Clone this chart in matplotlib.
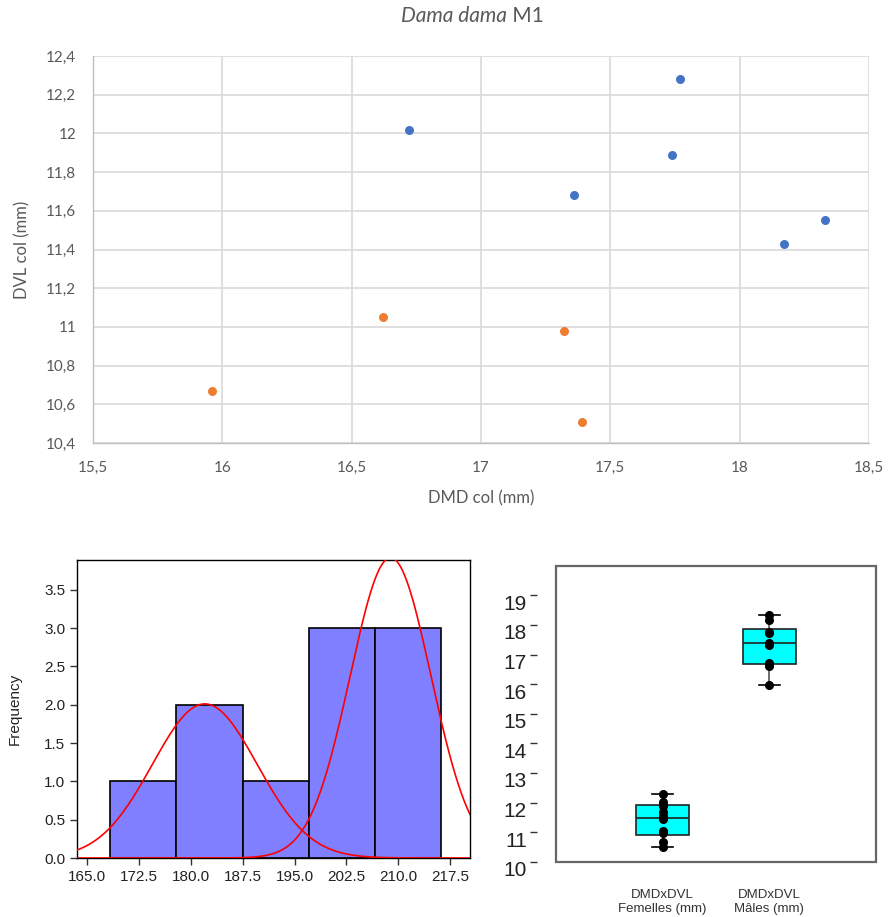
import numpy as np
import matplotlib
matplotlib.use("Agg")
import matplotlib.pyplot as plt
from matplotlib.patches import Rectangle
import matplotlib.transforms as mtransforms

# ---------------- data ----------------
# scatter: Dama dama M1
male_dmd = [16.72, 17.77, 17.74, 17.36, 18.17, 18.33]
male_dvl = [12.02, 12.28, 11.89, 11.68, 11.43, 11.55]
female_dmd = [16.62, 17.32, 15.96, 17.39]
female_dvl = [11.05, 10.98, 10.67, 10.51]

# histogram (DMD x DVL)
hist_edges = [168.3, 177.9, 187.6, 197.1, 206.65, 216.2]
hist_counts = [1, 2, 1, 3, 3]
fit_means = [182.0, 208.9]
fit_sds = [7.6, 5.85]
fit_counts = [4, 6]
hist_xticks = [165.0, 172.5, 180.0, 187.5, 195.0, 202.5, 210.0, 217.5]

# box plot values
box_labels = ["DMDxDVL\nFemelles (mm)", "DMDxDVL\nMâles (mm)"]
box_female = [12.28, 12.02, 11.89, 11.68, 11.55, 11.43, 11.05, 10.98, 10.67, 10.51]
box_male = [18.33, 18.17, 17.77, 17.74, 17.39, 17.36, 17.32, 16.72, 16.62, 15.96]

fig = plt.figure(figsize=(8.89, 9.17), dpi=100)

# ---------------- scatter ----------------
sfont = "Lato"
gray_txt = "#595959"
ax1 = fig.add_axes([0.1046, 0.5169, 0.8729, 0.422])
ax1.scatter(male_dmd, male_dvl, s=42, color="#4472C4", zorder=3, linewidths=0)
ax1.scatter(female_dmd, female_dvl, s=42, color="#ED7D31", zorder=3, linewidths=0)
ax1.set_xlim(15.5, 18.5)
ax1.set_ylim(10.4, 12.4)
xt = np.arange(15.5, 18.51, 0.5)
yt = np.arange(10.4, 12.41, 0.2)
ax1.set_xticks(xt)
ax1.set_yticks(yt)
fmt = lambda v: ("%g" % round(v, 2)).replace(".", ",")
ax1.set_xticklabels([fmt(v) for v in xt], fontsize=11, color=gray_txt, family=sfont)
ax1.set_yticklabels([fmt(v) for v in yt], fontsize=11, color=gray_txt, family=sfont)
ax1.tick_params(length=0, pad=13)
ax1.tick_params(axis="y", pad=12)
ax1.grid(True, color="#d9d9d9", linewidth=1.2)
ax1.set_axisbelow(True)
for s in ["top", "right"]:
    ax1.spines[s].set_visible(False)
for s in ["left", "bottom"]:
    ax1.spines[s].set_color("#bfbfbf")
    ax1.spines[s].set_linewidth(1.0)
ax1.set_xlabel("DMD col (mm)", fontsize=12, color=gray_txt, family=sfont, labelpad=11)
ax1.set_ylabel("DVL col (mm)", fontsize=12, color=gray_txt, family=sfont, labelpad=11)

t1 = fig.text(507 / 889, 1 - 16 / 917, "Dama dama", fontsize=15, style="italic",
              color=gray_txt, family=sfont, ha="right", va="center")
fig.canvas.draw()
ax1.annotate(" M1", xy=(1, 0), xycoords=t1, va="bottom", ha="left",
             fontsize=15, color=gray_txt, family=sfont)

# ---------------- histogram ----------------
hfont = "Liberation Sans"
ax2 = fig.add_axes([77 / 889, (917 - 858) / 917, 393 / 889, 298 / 917])
widths = np.diff(hist_edges)
ax2.bar(hist_edges[:-1], hist_counts, width=widths, align="edge",
        color="#7f7fff", edgecolor="black", linewidth=1.2, zorder=2)
xs = np.linspace(163.5, 220.4, 400)
bw = np.mean(widths)
for m, sd, n in zip(fit_means, fit_sds, fit_counts):
    ys = n * bw / (sd * np.sqrt(2 * np.pi)) * np.exp(-0.5 * ((xs - m) / sd) ** 2)
    ax2.plot(xs, ys, color="red", linewidth=1.2, zorder=3)
ax2.set_xlim(163.5, 220.4)
ax2.set_ylim(0, 3.89)
ax2.set_xticks(hist_xticks)
ax2.set_xticklabels(["%.1f" % v for v in hist_xticks], fontsize=11, family=hfont, color="#222222")
ax2.set_yticks(np.arange(0, 3.6, 0.5))
ax2.set_yticklabels(["%.1f" % v for v in np.arange(0, 3.6, 0.5)], fontsize=11,
                    family=hfont, color="#222222")
ax2.tick_params(direction="out", length=5, width=1, color="#333333")
for s in ax2.spines.values():
    s.set_linewidth(1.0)
    s.set_color("black")
ax2.set_ylabel("Frequency", fontsize=11, family=hfont, color="#222222", labelpad=16)

# ---------------- box plot ----------------
ax3 = fig.add_axes([556 / 889, (917 - 861.7) / 917, 320 / 889, 296 / 917])
for s in ax3.spines.values():
    s.set_visible(False)
ax3.spines["left"].set_position(("outward", 14))
stats = []
for data, lab in zip([box_female, box_male], box_labels):
    d = np.array(data)
    q1, med, q3 = np.percentile(d, [25, 50, 75], method="weibull")
    stats.append(dict(med=med, q1=q1, q3=q3, whislo=d.min(), whishi=d.max(),
                      fliers=[], label=lab))
ax3.bxp(stats, positions=[1, 2], widths=0.5, patch_artist=True, showfliers=False,
        boxprops=dict(facecolor="#00ffff", edgecolor="#222222", linewidth=1.2),
        medianprops=dict(color="#222222", linewidth=1.2),
        whiskerprops=dict(color="#555555", linewidth=1.2),
        capprops=dict(color="black", linewidth=1.2), capwidths=0.2)
for pos, data in zip([1, 2], [box_female, box_male]):
    ax3.plot([pos] * len(data), data, "o", color="black", markersize=5.5, zorder=4)
ax3.set_xlim(0, 3)
ax3.set_ylim(10, 20)
ax3.set_yticks(range(10, 20))
ax3.set_yticklabels([str(v) for v in range(10, 20)], fontsize=15, family=hfont, color="#222222")
ax3.add_patch(Rectangle((0, 0), 1, 1, transform=ax3.transAxes, fill=False,
                        edgecolor="#666666", linewidth=1.6, clip_on=False, zorder=5))
ax3.tick_params(axis="y", direction="out", length=5, width=1, color="#333333", pad=2)
ax3.tick_params(axis="x", length=0, pad=20)
for lab in ax3.get_xticklabels():
    lab.set_family(hfont)
    lab.set_fontsize(9.5)
    lab.set_color("#333333")
off = mtransforms.ScaledTranslation(0, -5 / 72, fig.dpi_scale_trans)
for lab in ax3.get_yticklabels():
    lab.set_transform(lab.get_transform() + off)

fig.savefig("out.png", dpi=100)
